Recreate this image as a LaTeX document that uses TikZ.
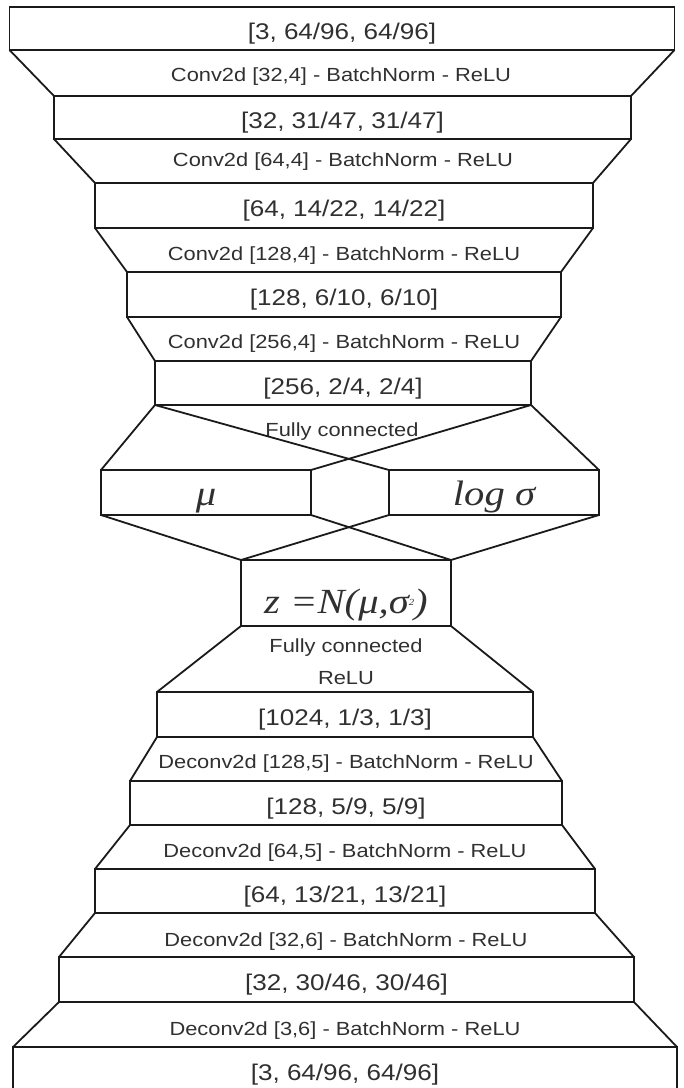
\documentclass[tikz,border=0pt]{standalone}
\usepackage{fontspec}
\setmainfont{Liberation Sans}[FakeStretch=1.15]
\newfontfamily\latentfont{Liberation Serif}[FakeStretch=1.15]
\usepackage{tikz}
\definecolor{ink}{HTML}{1a1a1a}
\definecolor{txt}{HTML}{303030}

\begin{document}
\begin{tikzpicture}[x=0.75pt, y=-0.75pt, every node/.style={inner sep=0pt, text=txt},
  layer/.style 2 args={draw=ink, line width=1.35pt, outer sep=0pt, minimum width=#1*0.75pt, minimum height=#2*0.75pt, text height=18pt, text depth=1.5pt, font=\fontsize{17}{20}\selectfont},
  latent/.style 2 args={layer={#1}{#2}, text height=20pt, text depth=0.5pt, font=\latentfont\itshape\fontsize{26.5}{30}\selectfont},
  op/.style={anchor=base, align=center, font=\fontsize{14.25}{24.2}\selectfont},
  edge/.style={draw=ink, line width=1.35pt}]
\useasboundingbox (0,0) rectangle (683,1088);
\node[layer={665}{43}] (in) at (342,28.5) {[3, 64/96, 64/96]};
\node[layer={577}{43}] (c32) at (342.5,117.5) {[32, 31/47, 31/47]};
\node[layer={498}{45}] (c64) at (344,205.5) {[64, 14/22, 14/22]};
\node[layer={434}{45}] (c128) at (344,294.5) {[128, 6/10, 6/10]};
\node[layer={376}{44}] (c256) at (343,383) {[256, 2/4, 2/4]};
\node[latent={210}{45}] (mu) at (206,492.5) {μ};
\node[latent={210}{45}] (logsig) at (494,492.5) {log σ};
\node[latent={210}{66}, text height=30pt, text depth=0pt] (z) at (346,593) {z =N(μ,σ\raisebox{6pt}{\fontsize{7}{7}\selectfont 2})};
\node[layer={376}{45}] (fc) at (345,714.5) {[1024, 1/3, 1/3]};
\node[layer={432}{44}] (d128) at (346,803) {[128, 5/9, 5/9]};
\node[layer={500}{44}] (d64) at (345,891) {[64, 13/21, 13/21]};
\node[layer={575}{45}] (d32) at (346.5,979.5) {[32, 30/46, 30/46]};
\node[layer={664}{45}] (out) at (345,1069.5) {[3, 64/96, 64/96]};
\node[op] (conv1) at (341,82) {Conv2d [32,4] - BatchNorm - ReLU};
\node[op] (conv2) at (343,166.5) {Conv2d [64,4] - BatchNorm - ReLU};
\node[op] (conv3) at (344,260) {Conv2d [128,4] - BatchNorm - ReLU};
\node[op] (conv4) at (344,348) {Conv2d [256,4] - BatchNorm - ReLU};
\node[op] (fcenc) at (342,436.5) {Fully connected};
\node[op, anchor=center] (fcdec) at (346,662) {Fully connected\\ReLU};
\node[op] (deconv1) at (346,768) {Deconv2d [128,5] - BatchNorm - ReLU};
\node[op] (deconv2) at (345,857) {Deconv2d [64,5] - BatchNorm - ReLU};
\node[op] (deconv3) at (346,946) {Deconv2d [32,6] - BatchNorm - ReLU};
\node[op] (deconv4) at (345,1035) {Deconv2d [3,6] - BatchNorm - ReLU};
\draw[edge] (in.south west) -- (c32.north west);
\draw[edge] (in.south east) -- (c32.north east);
\draw[edge] (c32.south west) -- (c64.north west);
\draw[edge] (c32.south east) -- (c64.north east);
\draw[edge] (c64.south west) -- (c128.north west);
\draw[edge] (c64.south east) -- (c128.north east);
\draw[edge] (c128.south west) -- (c256.north west);
\draw[edge] (c128.south east) -- (c256.north east);
\draw[edge] (c256.south west) -- (mu.north west);
\draw[edge] (c256.south west) -- (logsig.north west);
\draw[edge] (c256.south east) -- (mu.north east);
\draw[edge] (c256.south east) -- (logsig.north east);
\draw[edge] (mu.south west) -- (z.north west);
\draw[edge] (mu.south east) -- (z.north east);
\draw[edge] (logsig.south west) -- (z.north west);
\draw[edge] (logsig.south east) -- (z.north east);
\draw[edge] (z.south west) -- (fc.north west);
\draw[edge] (z.south east) -- (fc.north east);
\draw[edge] (fc.south west) -- (d128.north west);
\draw[edge] (fc.south east) -- (d128.north east);
\draw[edge] (d128.south west) -- (d64.north west);
\draw[edge] (d128.south east) -- (d64.north east);
\draw[edge] (d64.south west) -- (d32.north west);
\draw[edge] (d64.south east) -- (d32.north east);
\draw[edge] (d32.south west) -- (out.north west);
\draw[edge] (d32.south east) -- (out.north east);
\end{tikzpicture}
\end{document}
